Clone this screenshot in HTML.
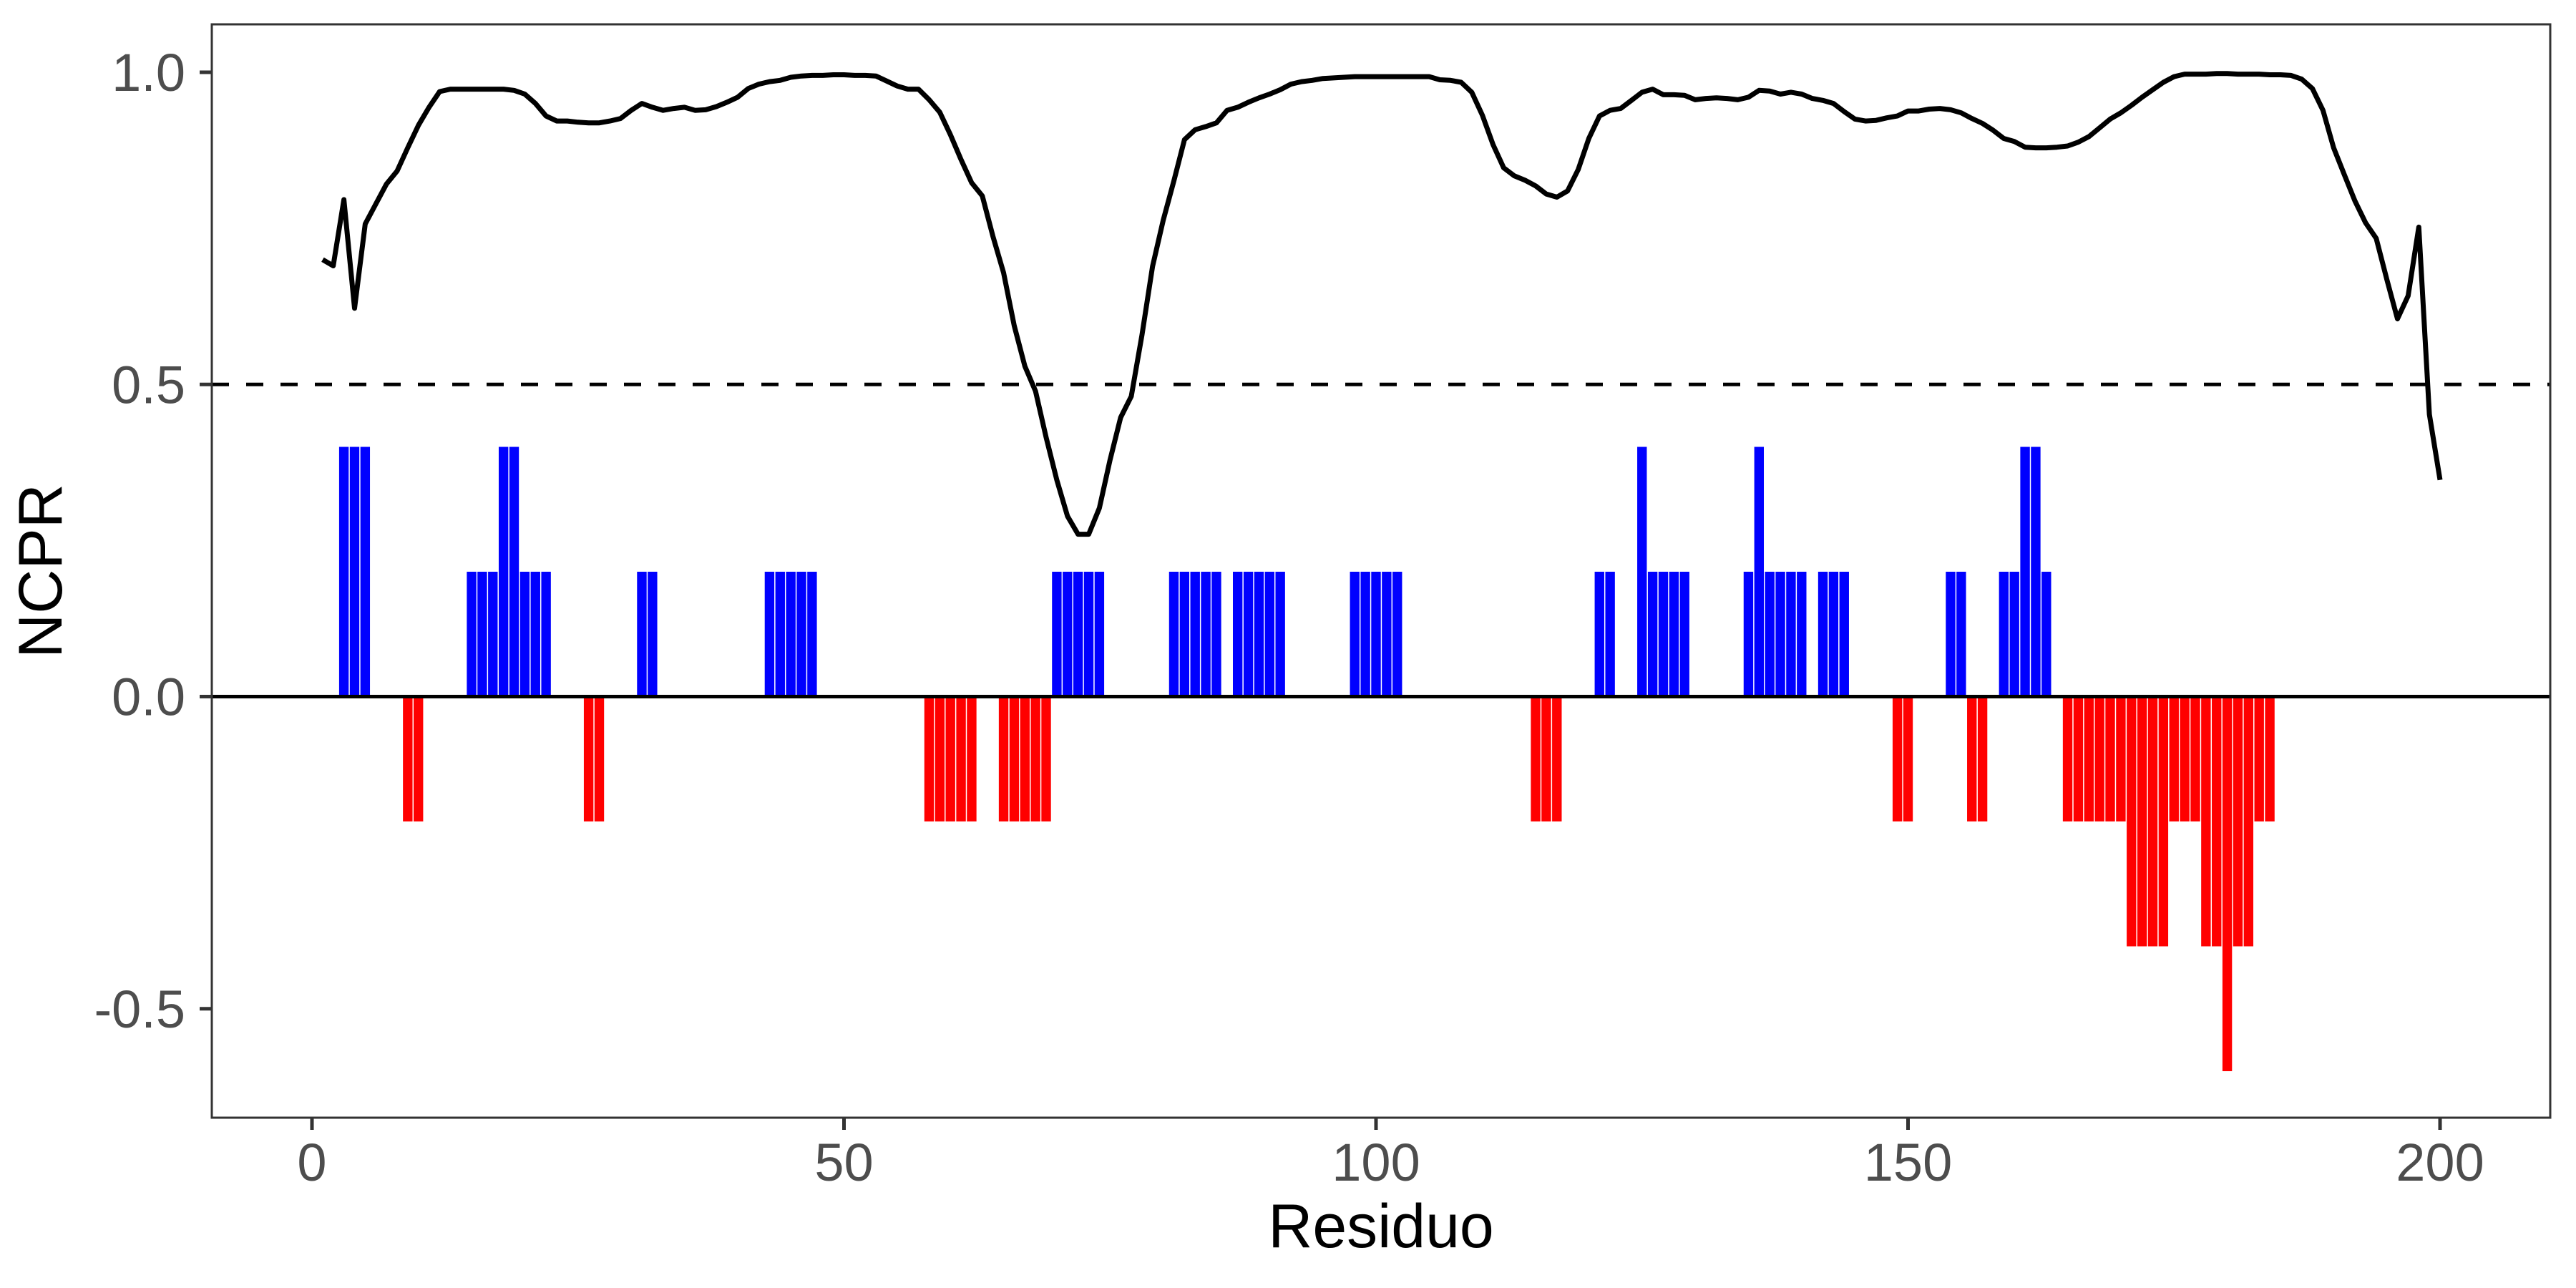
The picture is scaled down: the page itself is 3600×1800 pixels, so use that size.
<!DOCTYPE html>
<html><head><meta charset="utf-8"><title>NCPR</title>
<style>html,body{margin:0;padding:0;background:#fff}svg{display:block}</style></head>
<body>
<svg id="chart" width="3600" height="1800" viewBox="0 0 3600 1800" xmlns="http://www.w3.org/2000/svg" font-family="Liberation Sans, Arial, sans-serif">
<rect x="0" y="0" width="3600" height="1800" fill="#fff"/>
<g id="bars"></g>
<g id="lines"></g>
<g id="axes"></g>
<text x="1930" y="1743" font-size="86" text-anchor="middle" fill="#000">Residuo</text>
<text x="0" y="0" font-size="86" text-anchor="middle" fill="#000" transform="translate(86,798) rotate(-90)">NCPR</text>
</svg>
<script>
const barResidues = [3,4,5,9,10,15,16,17,18,19,20,21,22,26,27,31,32,43,44,45,46,47,58,59,60,61,62,65,66,67,68,69,70,71,72,73,74,81,82,83,84,85,87,88,89,90,91,98,99,100,101,102,115,116,117,121,122,125,126,127,128,129,135,136,137,138,139,140,142,143,144,149,150,154,155,156,157,159,160,161,162,163,165,166,167,168,169,170,171,172,173,174,175,176,177,178,179,180,181,182,183,184];
const barValues = [0.4,0.4,0.4,-0.2,-0.2,0.2,0.2,0.2,0.4,0.4,0.2,0.2,0.2,-0.2,-0.2,0.2,0.2,0.2,0.2,0.2,0.2,0.2,-0.2,-0.2,-0.2,-0.2,-0.2,-0.2,-0.2,-0.2,-0.2,-0.2,0.2,0.2,0.2,0.2,0.2,0.2,0.2,0.2,0.2,0.2,0.2,0.2,0.2,0.2,0.2,0.2,0.2,0.2,0.2,0.2,-0.2,-0.2,-0.2,0.2,0.2,0.4,0.2,0.2,0.2,0.2,0.2,0.4,0.2,0.2,0.2,0.2,0.2,0.2,0.2,-0.2,-0.2,0.2,0.2,-0.2,-0.2,0.2,0.2,0.4,0.4,0.2,-0.2,-0.2,-0.2,-0.2,-0.2,-0.2,-0.4,-0.4,-0.4,-0.4,-0.2,-0.2,-0.2,-0.4,-0.4,-0.6,-0.4,-0.4,-0.2,-0.2];
const lineValues = [0.70,0.69,0.796,0.622,0.757,0.789,0.821,0.842,0.879,0.915,0.944,0.969,0.973,0.973,0.973,0.973,0.973,0.973,0.971,0.965,0.950,0.930,0.922,0.922,0.920,0.919,0.919,0.922,0.926,0.939,0.950,0.944,0.939,0.942,0.944,0.939,0.940,0.945,0.952,0.960,0.974,0.981,0.985,0.987,0.992,0.994,0.995,0.995,0.996,0.996,0.995,0.995,0.994,0.986,0.978,0.973,0.973,0.956,0.936,0.900,0.860,0.823,0.802,0.737,0.679,0.594,0.529,0.489,0.415,0.347,0.289,0.260,0.260,0.302,0.379,0.447,0.481,0.579,0.689,0.763,0.826,0.892,0.908,0.913,0.919,0.939,0.944,0.952,0.959,0.965,0.972,0.981,0.985,0.987,0.990,0.991,0.992,0.993,0.993,0.993,0.993,0.993,0.993,0.993,0.993,0.988,0.987,0.984,0.968,0.931,0.884,0.847,0.834,0.827,0.818,0.805,0.800,0.810,0.844,0.894,0.930,0.939,0.942,0.955,0.968,0.973,0.964,0.964,0.963,0.956,0.958,0.959,0.958,0.956,0.960,0.971,0.970,0.965,0.968,0.965,0.958,0.955,0.950,0.937,0.925,0.922,0.923,0.927,0.930,0.938,0.938,0.941,0.942,0.940,0.935,0.926,0.918,0.907,0.894,0.889,0.880,0.879,0.879,0.880,0.882,0.888,0.897,0.911,0.925,0.935,0.947,0.960,0.972,0.984,0.993,0.997,0.997,0.997,0.998,0.998,0.997,0.997,0.997,0.996,0.996,0.995,0.989,0.974,0.939,0.879,0.836,0.794,0.759,0.734,0.668,0.605,0.642,0.752,0.452,0.347];
const xTicks = [0,50,100,150,200];
const yTicks = [-0.5,0.0,0.5,1.0];
const yTickLabels = ["-0.5","0.0","0.5","1.0"];
const threshold = 0.5;

const NS = "http://www.w3.org/2000/svg";
const PL = 296, PR = 3564, PT = 34, PB = 1562;
function xs(r){ return 436 + (r - 0) * (3410 - 436) / 200; }
function ys(v){ return 973.5 - v * 872.5; }
function mk(tag, attrs, parent){
  const e = document.createElementNS(NS, tag);
  for (const k in attrs) e.setAttribute(k, attrs[k]);
  parent.appendChild(e); return e;
}
const bars = document.getElementById('bars');
const bw = (xs(1) - xs(0)) * 0.9;
barResidues.forEach((r, i) => {
  const v = barValues[i];
  const y1 = ys(Math.max(v, 0)), y2 = ys(Math.min(v, 0));
  const b = mk('rect', {x: xs(r) - bw/2, y: y1, width: bw, height: y2 - y1, fill: v >= 0 ? '#0000ff' : '#ff0000'}, bars);
  
  
});
const lines = document.getElementById('lines');
const z = mk('line', {x1: PL, x2: PR, y1: ys(0), y2: ys(0), stroke: '#000', 'stroke-width': 5}, lines);


const d = mk('line', {x1: PL, x2: PR, y1: ys(threshold), y2: ys(threshold), stroke: '#000', 'stroke-width': 5, 'stroke-dasharray': '24 24'}, lines);


const pts = lineValues.map((v, i) => xs(i + 1).toFixed(1) + ',' + ys(v).toFixed(1)).join(' ');
const pl = mk('polyline', {points: pts, fill: 'none', stroke: '#000', 'stroke-width': 7, 'stroke-linejoin': 'round'}, lines);



const axes = document.getElementById('axes');
const border = mk('rect', {x: PL, y: PT, width: PR - PL, height: PB - PT, fill: 'none', stroke: '#333', 'stroke-width': 3}, axes);


xTicks.forEach(t => {
  const tk = mk('line', {x1: xs(t), x2: xs(t), y1: PB, y2: PB + 17, stroke: '#333', 'stroke-width': 5}, axes);
  
  
  const tx = mk('text', {x: xs(t), y: PB + 88, 'font-size': 74, 'text-anchor': 'middle', fill: '#4d4d4d'}, axes);
  tx.textContent = String(t);
  
  
});
yTicks.forEach((t, i) => {
  const tk = mk('line', {x1: PL - 17, x2: PL, y1: ys(t), y2: ys(t), stroke: '#333', 'stroke-width': 5}, axes);
  
  
  const tx = mk('text', {x: 259, y: ys(t) + 26, 'font-size': 74, 'text-anchor': 'end', fill: '#4d4d4d'}, axes);
  tx.textContent = yTickLabels[i];
  
  
});
</script>
</body></html>
